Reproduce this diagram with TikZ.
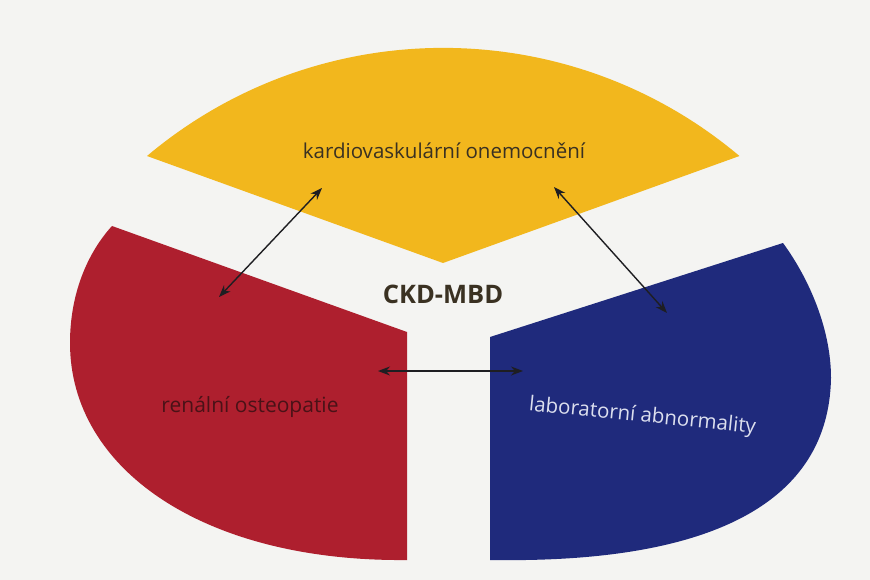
\documentclass[tikz,border=0pt]{standalone}
\usepackage{fontspec}
\setmainfont{Open Sans}
\usetikzlibrary{arrows.meta}
\definecolor{bgc}{HTML}{F4F4F2}
\definecolor{yelc}{HTML}{F2B71D}
\definecolor{redc}{HTML}{AE1F2E}
\definecolor{bluc}{HTML}{1F2A7C}
\definecolor{txtdark}{HTML}{3A3122}
\definecolor{txtred}{HTML}{4A1217}
\definecolor{txtblue}{HTML}{DCDFEE}
\definecolor{arrc}{HTML}{1E1E22}
\tikzset{
  link/.style={arrc, line width=1.4pt, {Stealth[length=12pt,width=9pt]}-{Stealth[length=12pt,width=9pt]}},
  lbl/.style={inner sep=0pt, anchor=base, font=\fontsize{20.5}{24}\selectfont},
}
\begin{document}
\begin{tikzpicture}[x=1pt,y=-1pt]
\useasboundingbox (0,0) rectangle (870,580);
\fill[bgc] (0,0) rectangle (870,580);
% yellow sector
\fill[yelc] (147,156) arc[start angle=130.1, end angle=49.9, radius=459.9pt] -- (443,263) -- cycle;
% red sector
\fill[redc] (112,226) -- (407,332) -- (407,560)
  .. controls (205,562) and (70,470) .. (70,343)
  .. controls (70,290) and (90,250) .. (112,226) -- cycle;
% blue sector
\fill[bluc] (490,337) -- (783,243)
  .. controls (810,280) and (831,330) .. (831,378)
  .. controls (828,545) and (620,562) .. (490,560) -- cycle;
% labels
\node[lbl, text=txtdark] (cv) at (444,159) {kardiovaskulární onemocnění};
\node[lbl, text=txtred, font=\fontsize{21}{24}\selectfont] (ro) at (250,412) {renální osteopatie};
\node[lbl, text=txtblue, rotate=-5.7] (la) at (642,422) {laboratorní abnormality};
\node[inner sep=0pt, anchor=base, text=txtdark, font=\bfseries\fontsize{25.5}{28}\selectfont] (ckd) at (443,303) {CKD-MBD};
% arrow ends
\coordinate (y1) at (322,188);
\coordinate (r1) at (219,297);
\coordinate (y2) at (554,187);
\coordinate (b1) at (667,313);
\coordinate (r2) at (378,371);
\coordinate (b2) at (523,371);
\draw[link] (r1) -- (y1);
\draw[link] (y2) -- (b1);
\draw[link] (r2) -- (b2);
\end{tikzpicture}
\end{document}
